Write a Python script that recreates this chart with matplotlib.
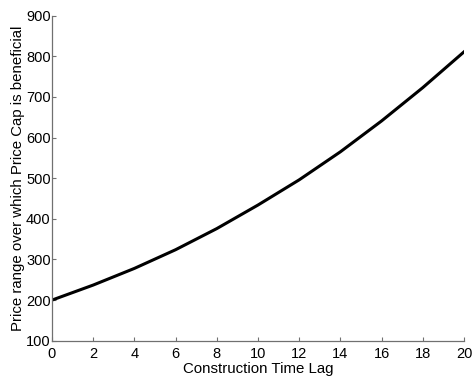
import matplotlib
matplotlib.use("Agg")
import matplotlib.pyplot as plt

plt.rcParams['font.family'] = ['Liberation Sans', 'DejaVu Sans']

# values
lag = [0, 2, 4, 6, 8, 10, 12, 14, 16, 18, 20]
price_range = [200, 237, 278, 324, 376, 434, 496, 565, 641, 723, 811]

x_ticks = [0, 2, 4, 6, 8, 10, 12, 14, 16, 18, 20]
y_ticks = [100, 200, 300, 400, 500, 600, 700, 800, 900]

fig = plt.figure(figsize=(4.74, 3.83), dpi=100)
ax = fig.add_axes([0.1097, 0.1104, 0.8692, 0.8486])

ax.plot(lag, price_range, color="black", linewidth=2.2)

ax.set_xlim(0, 20)
ax.set_ylim(100, 900)
ax.set_xticks(x_ticks)
ax.set_yticks(y_ticks)

for side in ("top", "right"):
    ax.spines[side].set_visible(False)
for side in ("left", "bottom"):
    ax.spines[side].set_color("#707070")
    ax.spines[side].set_linewidth(0.9)

ax.tick_params(direction="in", length=3, width=0.8, color="#707070",
               labelsize=10.5, labelcolor="black")
ax.tick_params(axis="x", pad=4.5)
ax.tick_params(axis="y", pad=1.0)

ax.set_xlabel("Construction Time Lag", fontsize=10.8, labelpad=1.0)
ax.set_ylabel("Price range over which Price Cap is beneficial", fontsize=10.8,
              labelpad=0.5)

fig.savefig("out.png", dpi=100)
